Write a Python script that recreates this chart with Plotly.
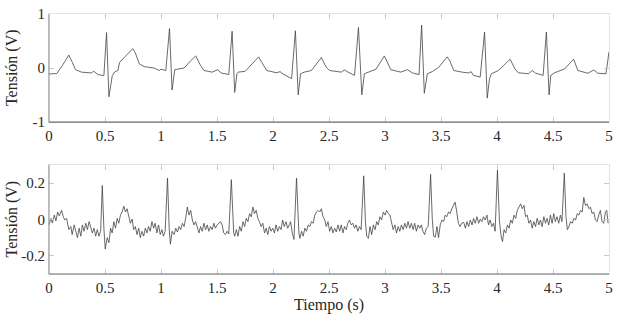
import plotly.graph_objects as go
from plotly.subplots import make_subplots

# ---- Top panel: clean ECG (time s, voltage V) ----
t_clean = [0.00, 0.07, 0.12, 0.177, 0.205, 0.237, 0.29, 0.378, 0.40, 0.437, 0.49,
           0.514, 0.535, 0.556, 0.565, 0.585, 0.615, 0.63, 0.674, 0.748, 0.77, 0.807,
           0.851, 0.94, 0.984, 1.00, 1.043, 1.076, 1.099, 1.123, 1.147, 1.206, 1.265,
           1.31, 1.354, 1.383, 1.457, 1.507, 1.537, 1.605, 1.635, 1.658, 1.678, 1.69,
           1.752, 1.811, 1.871, 1.90, 1.944, 2.033, 2.063, 2.09, 2.166, 2.20, 2.225,
           2.246, 2.28, 2.343, 2.432, 2.475, 2.506, 2.609, 2.639, 2.67, 2.728, 2.763,
           2.793, 2.816, 2.875, 2.92, 2.994, 3.052, 3.141, 3.20, 3.245, 3.304, 3.327,
           3.351, 3.378, 3.422, 3.48, 3.555, 3.58, 3.614, 3.688, 3.747, 3.768, 3.79,
           3.85, 3.889, 3.913, 3.933, 3.95, 4.013, 4.058, 4.117, 4.16, 4.19, 4.28,
           4.315, 4.345, 4.412, 4.441, 4.465, 4.48, 4.515, 4.604, 4.684, 4.722, 4.811,
           4.864, 4.90, 4.973, 4.988, 5.0]
v_clean = [-0.11, -0.10, 0.05, 0.24, 0.12, -0.03, -0.075, -0.09, -0.06, -0.12, -0.14,
           0.655, -0.53, -0.225, -0.14, -0.075, -0.045, 0.105, 0.195, 0.36, 0.285, 0.075,
           0.027, 0.0, -0.045, -0.02, -0.045, 0.73, -0.405, -0.03, -0.02, 0.0, 0.135,
           0.225, 0.045, -0.045, -0.075, -0.03, -0.09, -0.12, 0.68, -0.45, -0.105, -0.075,
           -0.06, 0.075, 0.207, 0.105, -0.045, -0.087, -0.065, -0.11, -0.195, 0.69, -0.495,
           -0.105, -0.075, -0.045, 0.195, 0.015, -0.045, -0.075, -0.035, -0.075, -0.135, 0.75,
           -0.495, -0.105, -0.06, -0.02, 0.225, -0.03, -0.075, -0.03, -0.09, -0.12, 0.795,
           -0.465, -0.105, -0.065, 0.015, 0.207, 0.13, -0.045, -0.075, -0.09, -0.065, -0.135,
           -0.165, 0.665, -0.555, -0.195, -0.105, -0.045, 0.045, 0.165, -0.015, -0.087, -0.105,
           -0.045, -0.095, -0.135, 0.665, -0.495, -0.135, -0.087, -0.015, 0.165, -0.045, -0.095,
           -0.035, -0.095, -0.105, 0.135, 0.3]

# ---- Bottom panel: noisy ECG (time s, voltage V) ----
t_noisy = [0.0, 0.018, 0.03, 0.047, 0.062, 0.077, 0.091, 0.112, 0.127, 0.142, 0.157, 0.177,
           0.195, 0.207, 0.225, 0.239, 0.254, 0.269, 0.284, 0.298, 0.313, 0.328, 0.343, 0.358,
           0.372, 0.387, 0.402, 0.417, 0.431, 0.446, 0.461, 0.476, 0.49, 0.502, 0.52, 0.535,
           0.55, 0.564, 0.579, 0.594, 0.609, 0.623, 0.638, 0.653, 0.668, 0.683, 0.697, 0.712,
           0.727, 0.742, 0.756, 0.771, 0.786, 0.801, 0.815, 0.83, 0.845, 0.86, 0.875, 0.889,
           0.904, 0.919, 0.934, 0.948, 0.963, 0.978, 0.993, 1.008, 1.022, 1.037, 1.058, 1.073,
           1.084, 1.099, 1.117, 1.132, 1.147, 1.161, 1.176, 1.191, 1.206, 1.22, 1.235, 1.25,
           1.265, 1.28, 1.294, 1.309, 1.324, 1.339, 1.353, 1.368, 1.383, 1.398, 1.413, 1.427,
           1.442, 1.457, 1.472, 1.486, 1.501, 1.516, 1.531, 1.546, 1.56, 1.575, 1.59, 1.605,
           1.628, 1.649, 1.658, 1.673, 1.687, 1.702, 1.717, 1.732, 1.747, 1.761, 1.776, 1.791,
           1.806, 1.82, 1.835, 1.85, 1.865, 1.879, 1.894, 1.909, 1.924, 1.939, 1.953, 1.968,
           1.983, 1.998, 2.013, 2.027, 2.042, 2.057, 2.072, 2.086, 2.101, 2.116, 2.131, 2.145,
           2.157, 2.172, 2.187, 2.21, 2.231, 2.24, 2.255, 2.27, 2.284, 2.299, 2.314, 2.329,
           2.343, 2.358, 2.373, 2.388, 2.403, 2.417, 2.432, 2.447, 2.462, 2.476, 2.491, 2.506,
           2.521, 2.535, 2.55, 2.565, 2.58, 2.595, 2.609, 2.624, 2.639, 2.654, 2.668, 2.683,
           2.698, 2.713, 2.728, 2.742, 2.757, 2.772, 2.787, 2.81, 2.825, 2.837, 2.852, 2.866,
           2.881, 2.896, 2.911, 2.926, 2.94, 2.955, 2.97, 2.985, 3.0, 3.014, 3.029, 3.044,
           3.059, 3.073, 3.088, 3.103, 3.118, 3.132, 3.147, 3.162, 3.177, 3.192, 3.206, 3.221,
           3.236, 3.251, 3.265, 3.28, 3.295, 3.31, 3.324, 3.339, 3.354, 3.369, 3.386, 3.407,
           3.422, 3.434, 3.449, 3.464, 3.478, 3.493, 3.508, 3.523, 3.537, 3.552, 3.567, 3.582,
           3.596, 3.611, 3.626, 3.641, 3.655, 3.67, 3.685, 3.703, 3.718, 3.732, 3.747, 3.762,
           3.777, 3.791, 3.806, 3.821, 3.836, 3.85, 3.865, 3.88, 3.895, 3.91, 3.924, 3.939,
           3.954, 3.969, 3.983, 4.004, 4.022, 4.037, 4.049, 4.063, 4.078, 4.093, 4.108, 4.122,
           4.137, 4.152, 4.167, 4.181, 4.196, 4.211, 4.226, 4.241, 4.255, 4.27, 4.285, 4.3,
           4.314, 4.329, 4.344, 4.359, 4.374, 4.388, 4.403, 4.418, 4.433, 4.447, 4.462, 4.477,
           4.492, 4.507, 4.521, 4.536, 4.551, 4.566, 4.58, 4.601, 4.616, 4.628, 4.642, 4.657,
           4.672, 4.687, 4.702, 4.716, 4.731, 4.746, 4.761, 4.775, 4.79, 4.805, 4.82, 4.835,
           4.849, 4.864, 4.879, 4.894, 4.908, 4.923, 4.938, 4.953, 4.968, 4.98, 4.992]
v_noisy = [-0.03, 0.006, -0.02, 0.024, -0.008, 0.041, 0.02, 0.05, 0.015, -0.003, 0.006, -0.056,
           -0.039, -0.083, -0.03, -0.074, -0.1, -0.048, -0.092, -0.03, -0.065, -0.021, -0.056, -0.012,
           -0.039, -0.074, -0.048, -0.092, -0.056, -0.092, -0.065, 0.187, -0.048, -0.163, -0.1, -0.128,
           -0.048, -0.074, -0.012, -0.048, 0.006, -0.021, 0.024, 0.041, 0.073, 0.041, 0.059, 0.015,
           -0.021, 0.002, -0.056, -0.039, -0.083, -0.048, -0.1, -0.065, -0.092, -0.048, -0.074, -0.039,
           -0.065, -0.012, -0.048, -0.021, -0.074, -0.03, -0.083, -0.056, -0.092, -0.065, 0.228, -0.048,
           -0.136, -0.065, -0.083, -0.048, -0.069, -0.039, -0.056, -0.021, -0.039, 0.006, 0.068, 0.024,
           0.05, -0.003, -0.03, -0.012, -0.048, -0.074, -0.039, -0.065, -0.021, -0.056, -0.03, -0.065,
           -0.039, -0.056, -0.021, -0.048, -0.03, -0.021, -0.012, -0.03, -0.074, -0.083, -0.065, -0.08,
           0.219, -0.074, -0.092, -0.056, -0.092, -0.039, -0.065, -0.012, -0.039, 0.006, -0.012, 0.032,
           0.015, 0.068, 0.032, 0.05, 0.006, -0.012, -0.039, -0.021, -0.074, -0.048, -0.083, -0.039,
           -0.065, -0.048, -0.074, -0.03, -0.065, -0.039, -0.056, -0.003, -0.039, -0.012, -0.048, -0.03,
           -0.012, -0.074, -0.11, 0.228, -0.074, -0.104, -0.065, -0.092, -0.048, -0.065, -0.03, -0.039,
           -0.012, -0.021, 0.024, 0.041, 0.05, 0.041, 0.059, 0.015, -0.003, -0.039, -0.012, -0.065,
           -0.039, -0.074, -0.048, -0.069, -0.03, -0.065, -0.03, -0.074, -0.039, -0.056, -0.021, -0.003,
           -0.03, -0.021, -0.048, -0.03, -0.065, -0.039, -0.056, 0.24, -0.012, -0.092, -0.104, -0.039,
           -0.083, -0.03, -0.056, -0.012, -0.03, 0.015, -0.003, 0.041, 0.024, 0.05, 0.032, 0.024,
           -0.021, -0.056, -0.03, -0.074, -0.039, -0.065, -0.03, -0.056, -0.021, -0.048, -0.012, -0.048,
           -0.021, -0.056, -0.021, -0.065, -0.03, -0.048, -0.03, -0.065, -0.083, -0.048, -0.039, 0.249,
           0.006, -0.092, -0.097, -0.039, -0.1, -0.03, -0.003, -0.012, 0.024, 0.015, 0.041, 0.032,
           0.059, 0.077, 0.095, 0.041, -0.021, -0.039, -0.021, -0.016, -0.048, -0.012, -0.039, -0.003,
           -0.03, 0.006, -0.021, 0.015, -0.021, 0.002, -0.012, 0.015, -0.003, 0.024, -0.03, -0.003,
           -0.039, -0.021, -0.065, 0.272, -0.012, -0.092, -0.122, -0.056, -0.074, -0.03, -0.048, -0.003,
           -0.021, 0.024, 0.006, 0.05, 0.068, 0.086, 0.059, 0.077, 0.015, 0.024, -0.021, -0.003,
           -0.048, -0.012, -0.039, 0.006, -0.03, -0.003, -0.039, 0.015, -0.021, 0.006, -0.03, 0.024,
           -0.021, 0.032, -0.012, 0.015, -0.021, 0.024, -0.012, 0.255, 0.015, -0.056, -0.039, -0.012,
           -0.021, 0.006, -0.003, 0.032, 0.024, 0.05, 0.041, 0.121, 0.077, 0.086, 0.059, 0.068,
           0.032, 0.041, -0.003, -0.012, 0.024, 0.05, -0.012, -0.021, 0.041, 0.05, -0.021]

# ---- Axis ticks / labels ----
x_ticks = [0, 0.5, 1, 1.5, 2, 2.5, 3, 3.5, 4, 4.5, 5]
x_ticktext = ["0", "0.5", "1", "1.5", "2", "2.5", "3", "3.5", "4", "4.5", "5"]
y_ticks_top = [-1, 0, 1]
y_ticktext_top = ["-1", "0", "1"]
y_ticks_bot = [-0.2, 0, 0.2]
y_ticktext_bot = ["-0.2", "0", "0.2"]
y_label = "Tensión (V)"
x_label = "Tiempo (s)"

FONT = "Liberation Serif, Times New Roman, Times, DejaVu Serif, serif"
TXT = "#262626"

fig = make_subplots(rows=2, cols=1, vertical_spacing=0.165)
fig.add_trace(go.Scatter(x=t_clean, y=v_clean, mode="lines",
                         line=dict(color="#444444", width=0.8), showlegend=False), row=1, col=1)
fig.add_trace(go.Scatter(x=t_noisy, y=v_noisy, mode="lines",
                         line=dict(color="#444444", width=0.8), showlegend=False), row=2, col=1)

axcommon = dict(showgrid=False, zeroline=False, showline=True, linecolor="#e3e3e3", linewidth=1,
                mirror="ticks", ticks="inside", ticklen=5, tickcolor="#c8c8c8", tickwidth=1,
                ticklabeloverflow="allow",
                tickfont=dict(family=FONT, size=15, color=TXT))

fig.update_xaxes(range=[0, 5], tickvals=x_ticks, ticktext=x_ticktext, **axcommon)
fig.update_yaxes(**axcommon)
fig.update_yaxes(range=[-1, 1], tickvals=y_ticks_top, ticktext=y_ticktext_top, row=1, col=1)
fig.update_yaxes(range=[-0.3, 0.3], tickvals=y_ticks_bot, ticktext=y_ticktext_bot, row=2, col=1)
fig.update_layout(
    xaxis=dict(domain=[0, 1]), yaxis=dict(domain=[0.584, 1.0]),
    xaxis2=dict(domain=[0, 1]), yaxis2=dict(domain=[0.0, 0.4195]),
)

# darker left / bottom axis lines (MATLAB style box)
shapes = []
for xr, yr in (("x domain", "y domain"), ("x2 domain", "y2 domain")):
    shapes.append(dict(type="line", xref=xr, yref=yr, x0=0, x1=0, y0=0, y1=1,
                       line=dict(color="#8c8c8c", width=1)))
    shapes.append(dict(type="line", xref=xr, yref=yr, x0=0, x1=1, y0=0, y1=0,
                       line=dict(color="#6e6e6e", width=1.2)))

annotations = [
    dict(text=y_label, textangle=-90, xref="paper", yref="y domain", x=0, y=0.5,
         xshift=-37, xanchor="center", yanchor="middle", showarrow=False,
         font=dict(family=FONT, size=16, color=TXT)),
    dict(text=y_label, textangle=-90, xref="paper", yref="y2 domain", x=0, y=0.5,
         xshift=-37, xanchor="center", yanchor="middle", showarrow=False,
         font=dict(family=FONT, size=16, color=TXT)),
    dict(text=x_label, xref="paper", yref="paper", x=0.5, y=0, yshift=-31,
         xanchor="center", yanchor="middle", showarrow=False,
         font=dict(family=FONT, size=16, color=TXT)),
]

fig.update_layout(width=619, height=315, margin=dict(l=49, r=6, t=7, b=41),
                  paper_bgcolor="white", plot_bgcolor="white",
                  font=dict(family=FONT, color=TXT),
                  shapes=shapes, annotations=annotations)

fig.write_html("out.html", config={"displayModeBar": False},
               post_script="document.body.style.margin='0';document.body.style.padding='0';"
                           "document.documentElement.style.overflow='hidden';")
